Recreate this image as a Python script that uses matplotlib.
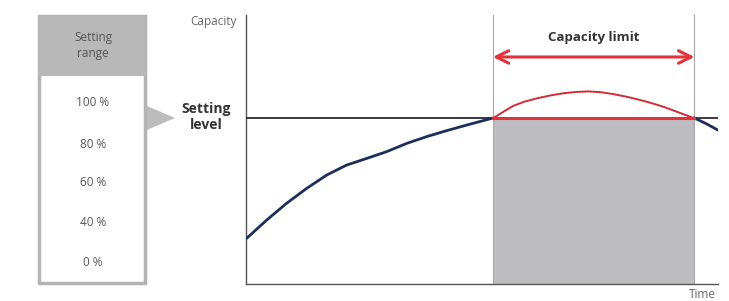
import numpy as np
import matplotlib.pyplot as plt
from matplotlib.patches import Rectangle, Polygon

plt.rcParams['font.family'] = ['Open Sans', 'DejaVu Sans']

# capacity curve before the limit (time, capacity)
rise_t = [0.15, 4.4, 8.6, 12.9, 17.1, 21.3, 25.6, 29.8, 34.1, 38.3, 42.5, 46.8, 52.3]
rise_c = [17.0, 23.8, 30.0, 35.6, 40.5, 44.2, 46.7, 49.2, 52.3, 54.8, 57.0, 59.1, 61.7]
# demand above the setting level, cut off by the limit
over_t = [52.3, 54.5, 56.6, 59.0, 61.6, 64.5, 67.2, 70.0, 72.5, 75.2, 77.8, 80.7, 83.5, 86.0, 88.4, 91.5, 95.0]
over_c = [61.6, 64.0, 66.2, 67.8, 69.0, 70.1, 70.9, 71.4, 71.6, 71.3, 70.6, 69.6, 68.4, 67.2, 65.9, 63.9, 61.6]
# curve after the limit
fall_t = [95.0, 97.5, 100.0]
fall_c = [61.7, 59.6, 57.2]

setting_level = 61.7
limit_start, limit_end = 52.3, 95.0
arrow_level = 84.4
range_labels = ['100 %', '80 %', '60 %', '40 %', '0 %']

fig = plt.figure(figsize=(7.29, 3.01), dpi=100)
W, H = 729, 301

ax = fig.add_axes([246 / W, 17 / H, 472 / W, 269 / H])
ax.set_xlim(0, 100)
ax.set_ylim(0, 100)
for s in ['top', 'right']:
    ax.spines[s].set_visible(False)
for s in ['left', 'bottom']:
    ax.spines[s].set_color('#555555')
    ax.spines[s].set_linewidth(1.0)
ax.set_xticks([])
ax.set_yticks([])

navy = '#1c2f5c'
red = '#e3323c'

ax.axvspan(limit_start, limit_end, ymin=0, ymax=setting_level / 100,
           color='#bdbdc1', lw=0, zorder=1)
for xv in [limit_start, limit_end]:
    ax.axvline(xv, color='#a8a8a8', lw=0.8, zorder=2)

ax.plot([0, 100], [setting_level, setting_level], color='#2a2a35', lw=1.3, zorder=3)
ax.plot(rise_t, rise_c, color=navy, lw=2.0, zorder=4, solid_capstyle='round')
ax.plot(fall_t, fall_c, color=navy, lw=2.0, zorder=4)
ax.plot(over_t, over_c, color=red, lw=1.4, zorder=4)
ax.plot(over_t, over_c, color='#6a2030', lw=0.8, ls=(0, (1, 1.5)), alpha=0.6, zorder=5)
ax.plot([limit_start, limit_end], [setting_level, setting_level], color=red, lw=2.2, zorder=5)

ax.annotate('', xy=(limit_end, arrow_level), xytext=(limit_start, arrow_level),
            arrowprops=dict(arrowstyle='<->,head_length=0.9,head_width=0.45',
                            color=red, lw=2.2, shrinkA=0, shrinkB=0))
ax.text((limit_start + limit_end) / 2, arrow_level + 5, 'Capacity limit',
        ha='center', va='bottom', fontsize=9.5, fontweight='bold', color='#333333')

fig.text(213 / W, 1 - 21 / H, 'Capacity', ha='center', va='center',
         fontsize=8.5, color='#666666')
fig.text(702 / W, 1 - 294 / H, 'Time', ha='center', va='center',
         fontsize=8.5, color='#666666')
fig.text(206 / W, 1 - 117 / H, 'Setting\nlevel', ha='center', va='center',
         fontsize=10, fontweight='bold', color='#333333', linespacing=1.1)

# setting range box on the left, in figure pixels
box = fig.add_axes([0, 0, 1, 1], zorder=-1)
box.set_xlim(0, W)
box.set_ylim(H, 0)
box.axis('off')
box.add_patch(Rectangle((39, 16), 106, 267, facecolor='white',
                        edgecolor='#b3b3b3', lw=2.5))
box.add_patch(Rectangle((39, 16), 106, 60, facecolor='#b8b8b8', lw=0))
box.text(93, 45, 'Setting\nrange', ha='center', va='center', fontsize=8.5,
         color='#555555', linespacing=1.3)
label_y = [103, 144, 183, 223, 263]
for lab, yy in zip(range_labels, label_y):
    box.text(93, yy, lab, ha='center', va='center', fontsize=8.5, color='#555555')
box.add_patch(Polygon([[147, 106], [147, 130], [175, 118]], closed=True,
                      facecolor='#bcbcbc', lw=0))

fig.savefig('out.png', dpi=100)
